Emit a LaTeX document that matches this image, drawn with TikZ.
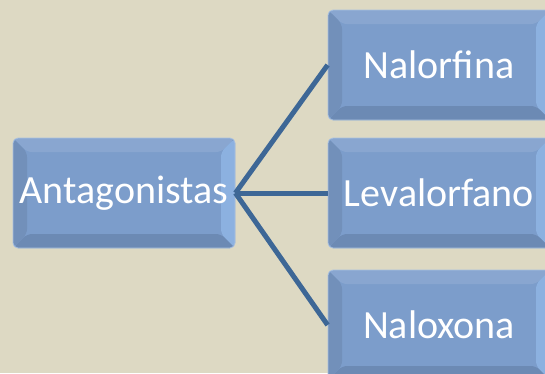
\documentclass[tikz,border=0pt]{standalone}
\usepackage{fontspec}
\setmainfont{Carlito}
\usepackage{tikz}
\usetikzlibrary{shapes,positioning}
\definecolor{paper}{RGB}{221,217,195}
\definecolor{boxface}{RGB}{124,157,203}
\definecolor{boxlight}{RGB}{140,177,224}
\definecolor{boxdark}{RGB}{108,138,180}
\definecolor{boxleft}{RGB}{114,144,186}
\definecolor{boxrim}{RGB}{168,192,224}
\definecolor{linkblue}{RGB}{61,103,150}

\begin{document}
\begin{tikzpicture}
            [
                x=1pt, y=-1pt,
                drugbox/.style={rectangle, rounded corners=5pt, draw=boxrim, fill=boxface, thick, minimum width=222pt, minimum height=110pt, text=white, font=\fontsize{40}{46}\selectfont,
                    path picture={
                        \fill[white,opacity=0.10] (path picture bounding box.north west) -- (path picture bounding box.north east) -- ([xshift=-14pt,yshift=-14pt]path picture bounding box.north east) -- ([xshift=14pt,yshift=-14pt]path picture bounding box.north west) -- cycle;
                        \fill[boxlight] (path picture bounding box.north east) -- (path picture bounding box.south east) -- ([xshift=-14pt,yshift=14pt]path picture bounding box.south east) -- ([xshift=-14pt,yshift=-14pt]path picture bounding box.north east) -- cycle;
                        \fill[boxdark] (path picture bounding box.south east) -- (path picture bounding box.south west) -- ([xshift=14pt,yshift=14pt]path picture bounding box.south west) -- ([xshift=-14pt,yshift=14pt]path picture bounding box.south east) -- cycle;
                        \fill[boxleft] (path picture bounding box.south west) -- (path picture bounding box.north west) -- ([xshift=14pt,yshift=-14pt]path picture bounding box.north west) -- ([xshift=14pt,yshift=14pt]path picture bounding box.south west) -- cycle;
                    }},
                linkline/.style={draw=linkblue, line width=5pt},
            ]

            %% BACKGROUND
            \fill[paper] (0,0) rectangle (545,373);
            \useasboundingbox (0,0) rectangle (545,373);
            \clip (0,0) rectangle (545,373);

            %% BOXES
            \node[drugbox] (antagonistas) at(124,193) {Antagonistas};
            \node[drugbox] (nalorfina) at(439,65) {Nalorfina};
            \node[drugbox] (levalorfano) at(439,193) {Levalorfano};
            \node[drugbox] (naloxona) at(439,325) {Naloxona};

            %% LINKS
            \draw[linkline] (antagonistas.east) -- (nalorfina.west);
            \draw[linkline] (antagonistas.east) -- (levalorfano.west);
            \draw[linkline] (antagonistas.east) -- (naloxona.west);

        \end{tikzpicture}
\end{document}
